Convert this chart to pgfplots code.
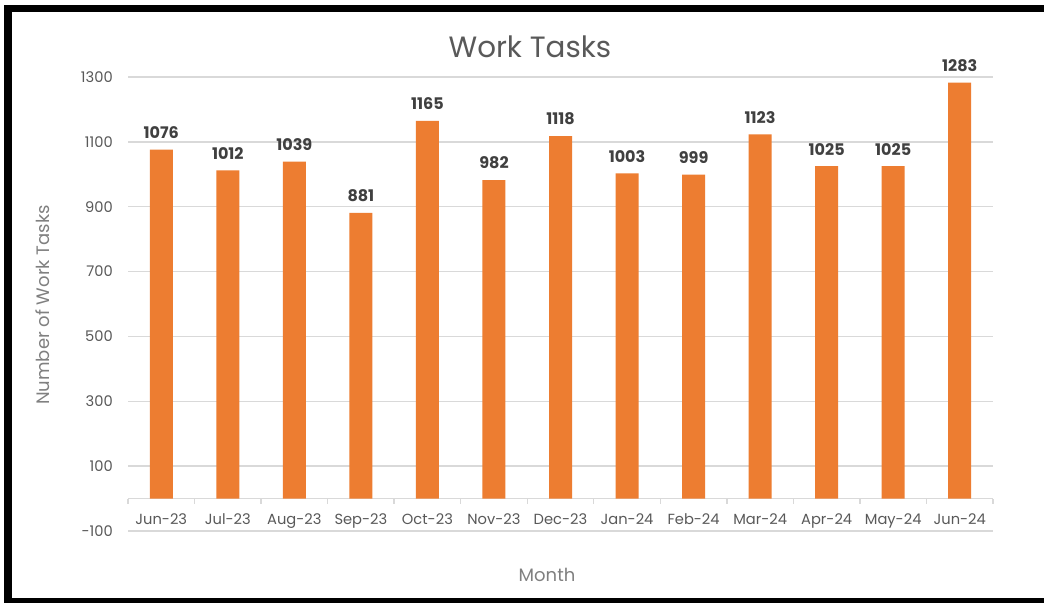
\documentclass[border=0pt]{standalone}
\usepackage{fontspec}
\setmainfont{Poppins}
\usepackage{pgfplots}
\pgfplotsset{compat=1.18}
\definecolor{barorange}{HTML}{ED7D31}
\definecolor{gridgray}{HTML}{D9D9D9}
\definecolor{ticktext}{HTML}{595959}
\definecolor{titletext}{HTML}{595959}
\definecolor{axtitle}{HTML}{808080}
\definecolor{labeltext}{HTML}{404040}
\begin{document}
\begin{tikzpicture}
\begin{scope}[x=0.75pt,y=-0.75pt,shift={(0,452.25pt)}]
\path[use as bounding box] (0,0) rectangle (1044,603);
\fill[white] (0,0) rectangle (1044,603);
\fill[black] (4,5) rectangle (1044,12);
\fill[black] (4,5) rectangle (12,603);
\fill[black] (4,598) rectangle (1044,603);
\end{scope}
\begin{axis}[
  at={(96pt,54pt)}, anchor=south west,
  scale only axis, width=648.75pt, height=340.5pt,
  xmin=-0.5, xmax=12.5, ymin=-100, ymax=1300,
  ybar, bar width=17.25pt,
  axis x line=middle, axis y line=left,
  hide obscured x ticks=false, hide obscured y ticks=false,
  x axis line style={-, draw=gridgray, line width=1pt},
  y axis line style={draw=none},
  ytick={-100,100,...,1300},
  ymajorgrids, grid style={gridgray, line width=1pt},
  ytick style={draw=none},
  xtick={0,...,12},
  xticklabels={Jun-23,Jul-23,Aug-23,Sep-23,Oct-23,Nov-23,Dec-23,Jan-24,Feb-24,Mar-24,Apr-24,May-24,Jun-24},
  major x tick style={draw=none},
  minor xtick={-0.5,0.5,...,12.5},
  minor tick length=4pt,
  minor x tick style={draw=gridgray, line width=1pt},
  tick align=outside,
  /pgf/number format/assume math mode=true,
  /pgf/number format/1000 sep={},
  yticklabel style={font=\fontsize{11}{13}\selectfont, color=ticktext, anchor=east, inner sep=0pt, xshift=-7pt},
  xticklabel style={font=\fontsize{11}{13}\selectfont, color=ticktext, anchor=north, inner sep=0pt, yshift=-7pt},
  title={Work Tasks},
  title style={at={(axis description cs:0.4647,1.0419)}, anchor=base, yshift=-6pt, font=\fontsize{22}{26}\selectfont, color=titletext},
  xlabel={Month},
  xlabel style={at={(axis description cs:0.4844,-0.0969)}, anchor=center, font=\fontsize{13.5}{16}\selectfont, color=axtitle},
  ylabel={Number of Work Tasks},
  ylabel style={at={(axis description cs:-0.0983,0.4978)}, anchor=center, font=\fontsize{13.5}{16}\selectfont, color=axtitle},
  nodes near coords,
  nodes near coords style={font=\bfseries\fontsize{12}{14}\selectfont, color=labeltext, anchor=south, inner sep=0pt, yshift=8pt},
]
\addplot[fill=barorange, draw=none, bar shift=0pt] coordinates {
(0,1076) (1,1012) (2,1039) (3,881) (4,1165) (5,982) (6,1118) (7,1003) (8,999) (9,1123) (10,1025) (11,1025) (12,1283)
};
\end{axis}
\end{tikzpicture}
\end{document}
